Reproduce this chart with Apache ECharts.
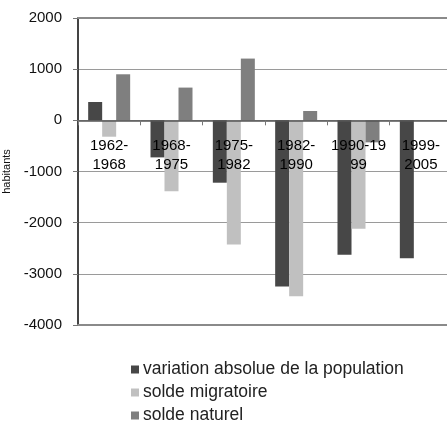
<!DOCTYPE html>
<html><head><meta charset="utf-8">
<script src="https://cdn.jsdelivr.net/npm/echarts@6/dist/echarts.min.js"></script>
<style>html,body{margin:0;padding:0;background:#fff}#c{width:447px;height:422px}</style>
</head><body><div id="c"></div>
<script>
const categories = ["1962-\n1968", "1968-\n1975", "1975-\n1982", "1982-\n1990", "1990-19\n99", "1999-\n2005"];
const variationAbsolue = [358, -724, -1219, -3249, -2628, -2695];
const soldeMigratoire = [-320, -1384, -2427, -3438, -2119, null];
const soldeNaturel = [900, 640, 1207, 182, -430, null];
const seriesNames = ["variation absolue de la population", "solde migratoire", "solde naturel"];
const yTicks = { min: -4000, max: 2000, interval: 1000 };

const font = "Liberation Sans, Arial, sans-serif";
const gridTop = 18, gridHeight = 307;
const zeroOffset = -gridHeight * (0 - yTicks.min) / (yTicks.max - yTicks.min);
const chart = echarts.init(document.getElementById('c'), null, { renderer: 'canvas' });
chart.setOption({
  animation: false,
  backgroundColor: '#fff',
  grid: { left: 78, top: gridTop, width: 374, height: gridHeight, containLabel: false, outerBoundsMode: 'none' },
  legend: {
    orient: 'vertical', left: 131, top: 360, height: 80, padding: 0,
    itemWidth: 8, itemHeight: 8, itemGap: 4,
    icon: 'rect',
    textStyle: { fontFamily: font, fontSize: 17.5, color: '#222', padding: [0, 0, 0, -1], lineHeight: 19 },
    data: seriesNames
  },
  xAxis: [
    { type: 'category', data: categories, position: 'bottom',
      axisLine: { onZero: false, lineStyle: { color: '#8a8a8a', width: 2 } },
      axisTick: { show: false }, axisLabel: { show: false }, splitLine: { show: false } },
    { type: 'category', data: categories, position: 'top',
      axisLine: { onZero: false, lineStyle: { color: '#8a8a8a', width: 2 } },
      axisTick: { show: false }, axisLabel: { show: false }, splitLine: { show: false } },
    { type: 'category', data: categories, position: 'bottom', offset: zeroOffset, zlevel: 2, z: 50,
      axisLine: { onZero: false, lineStyle: { color: '#555', width: 1.5 } },
      axisTick: { show: true, length: 5, lineStyle: { color: '#777' } },
      axisLabel: { fontFamily: font, fontSize: 15, color: '#000', margin: 16, lineHeight: 19, interval: 0, hideOverlap: false },
      splitLine: { show: false } }
  ],
  yAxis: {
    type: 'value', min: yTicks.min, max: yTicks.max, interval: yTicks.interval,
    name: 'habitants', nameLocation: 'middle', nameGap: 50, nameRotate: 90,
    nameTextStyle: { fontFamily: font, fontSize: 11, color: '#111' },
    axisLine: { show: true, onZero: false, lineStyle: { color: '#444', width: 2 } },
    axisTick: { show: true, length: 5, lineStyle: { color: '#777' } },
    axisLabel: { fontFamily: font, fontSize: 15, color: '#111', margin: 16, formatter: v => String(v) },
    splitLine: { show: true, lineStyle: { color: '#9a9a9a', width: 1 } }
  },
  series: [
    { name: seriesNames[0], type: 'bar', data: variationAbsolue, barWidth: 14, barGap: '0%', itemStyle: { color: '#474747' } },
    { name: seriesNames[1], type: 'bar', data: soldeMigratoire, barWidth: 14, barGap: '0%', itemStyle: { color: '#c0c0c0' } },
    { name: seriesNames[2], type: 'bar', data: soldeNaturel, barWidth: 14, barGap: '0%', itemStyle: { color: '#7f7f7f' } }
  ]
});
</script></body></html>
